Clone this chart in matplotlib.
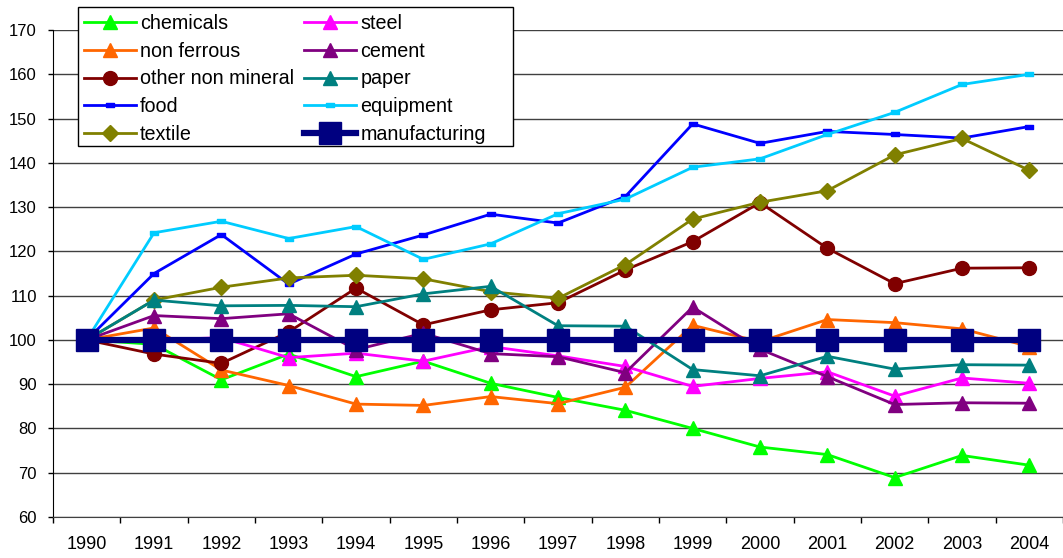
import numpy as np
import matplotlib
matplotlib.use('Agg')
import matplotlib.pyplot as plt
from matplotlib.patches import Rectangle

# 行业产出指数（1990 = 100）
years = ['1990', '1991', '1992', '1993', '1994', '1995', '1996', '1997',
         '1998', '1999', '2000', '2001', '2002', '2003', '2004']

chemicals = [100, 99, 91, 96.8, 91.7, 95.2, 90.2, 87, 84.1, 80, 75.8, 74.1, 68.9, 73.9, 71.7]
steel = [100, 100, 100.5, 96, 97, 95.2, 98.5, 96.4, 94, 89.5, 91.3, 92.8, 87.3, 91.4, 90.2]
non_ferrous = [100, 102.7, 93.2, 89.7, 85.5, 85.2, 87.2, 85.6, 89.3, 103.3, 99.6, 104.6, 103.9, 102.5, 98.5]
cement = [100, 105.5, 104.8, 105.9, 97.8, 101.5, 96.9, 96.2, 92.6, 107.4, 97.9, 91.7, 85.4, 85.8, 85.7]
other_non_mineral = [100, 96.8, 94.7, 101.8, 111.7, 103.4, 106.8, 108.4, 115.8, 122.2, 131, 120.7, 112.7, 116.2, 116.3]
paper = [100, 109, 107.7, 107.8, 107.5, 110.4, 112.1, 103.2, 103.1, 93.3, 91.9, 96.3, 93.4, 94.4, 94.3]
food = [100, 115, 123.8, 112.6, 119.4, 123.7, 128.4, 126.4, 132.4, 148.8, 144.4, 147.1, 146.4, 145.6, 148.2]
equipment = [100, 124.2, 126.8, 122.9, 125.6, 118.2, 121.7, 128.5, 131.8, 139, 140.9, 146.4, 151.4, 157.7, 160]
textile = [100, 109, 111.9, 114, 114.6, 113.8, 110.9, 109.4, 117, 127.3, 131.1, 133.7, 141.8, 145.5, 138.3]
manufacturing = [100] * 15

plt.rcParams['font.family'] = ['Liberation Sans', 'DejaVu Sans']

fig = plt.figure(figsize=(10.63, 5.58), dpi=100)
ax = fig.add_axes([0.0499, 0.0735, 0.9501, 0.8727])
x = np.arange(len(years))

# 扁长方形标记（食品、设备）
bar_marker = [(-1, -0.45), (1, -0.45), (1, 0.45), (-1, 0.45), (-1, -0.45)]

lw = 2.0
series = [
    ('chemicals', chemicals, '#00FF00', '^', 10),
    ('non ferrous', non_ferrous, '#FF6600', '^', 10),
    ('other non mineral', other_non_mineral, '#800000', 'o', 10),
    ('food', food, '#0000FF', bar_marker, 6),
    ('textile', textile, '#808000', 'D', 8),
    ('steel', steel, '#FF00FF', '^', 10),
    ('cement', cement, '#800080', '^', 10),
    ('paper', paper, '#008080', '^', 10),
    ('equipment', equipment, '#00CCFF', bar_marker, 6),
]

handles = {}
for name, vals, color, marker, ms in series:
    line, = ax.plot(x, vals, color=color, lw=lw, marker=marker, ms=ms,
                    markerfacecolor=color, markeredgecolor=color, label=name)
    handles[name] = line

line, = ax.plot(x, manufacturing, color='#000080', lw=4.5, marker='s', ms=16,
                markerfacecolor='#000080', markeredgecolor='#000080',
                label='manufacturing', zorder=5)
handles['manufacturing'] = line

ax.set_ylim(60, 170)
ax.set_yticks(np.arange(60, 171, 10))
ax.set_xlim(-0.5, 14.37)
ax.set_xticks(x)
ax.set_xticklabels(years)
ax.set_xticks(np.arange(-0.5, 15, 1), minor=True)
ax.tick_params(axis='x', which='major', length=0, pad=14, labelsize=13)
ax.tick_params(axis='x', which='minor', length=4, width=1, color='black')
ax.tick_params(axis='y', length=3.6, width=1, labelsize=12, pad=8)

ax.grid(axis='y', color='#404040', lw=1)
ax.set_axisbelow(True)
for side in ['top', 'right']:
    ax.spines[side].set_visible(False)
ax.spines['left'].set_color('black')
ax.spines['bottom'].set_color('#404040')

# 图例边框单独画，右侧留白比默认宽
fig.patches.append(Rectangle((78 / 1063, 1 - 146 / 558), 435 / 1063, 139 / 558,
                             transform=fig.transFigure, facecolor='white',
                             edgecolor='black', lw=1, zorder=4))

order = ['chemicals', 'non ferrous', 'other non mineral', 'food', 'textile',
         'steel', 'cement', 'paper', 'equipment', 'manufacturing']
leg = fig.legend([handles[k] for k in order], order, ncol=2,
                 loc='upper left', bbox_to_anchor=(0.0734, 0.986),
                 fontsize=14.2, frameon=False, handlelength=2.65,
                 handletextpad=0.2, columnspacing=0.5, labelspacing=0.45,
                 borderpad=0.3, borderaxespad=0)

plt.savefig('out.png', dpi=100)
